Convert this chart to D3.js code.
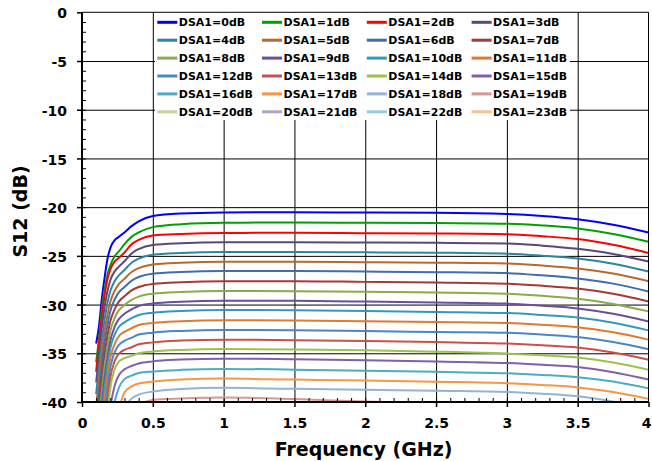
<!DOCTYPE html>
<html><head><meta charset="utf-8">
<script src="https://cdn.jsdelivr.net/npm/d3@7"></script>
<style>
html,body{margin:0;padding:0;background:#fff;}
svg{display:block;}
text{font-family:"DejaVu Sans",Verdana,sans-serif;font-weight:bold;fill:#000;}
</style>
</head><body>
<svg id="chart" width="652" height="461"></svg>
<script>
// ---- data ----
const freq = [0.10,0.12,0.14,0.16,0.18,0.20,0.23,0.26,0.30,0.35,0.40,0.50,0.70,1.0,1.5,2.0,2.5,3.0,3.25,3.5,3.75,4.0];
const seriesNames = ["DSA1=0dB","DSA1=1dB","DSA1=2dB","DSA1=3dB","DSA1=4dB","DSA1=5dB","DSA1=6dB","DSA1=7dB",
  "DSA1=8dB","DSA1=9dB","DSA1=10dB","DSA1=11dB","DSA1=12dB","DSA1=13dB","DSA1=14dB","DSA1=15dB",
  "DSA1=16dB","DSA1=17dB","DSA1=18dB","DSA1=19dB","DSA1=20dB","DSA1=21dB","DSA1=22dB","DSA1=23dB"];
const s0  = [-34.0,-32.2,-29.4,-27.2,-25.3,-24.2,-23.4,-23.05,-22.6,-21.95,-21.45,-20.9,-20.65,-20.55,-20.52,-20.55,-20.57,-20.7,-20.9,-21.23,-21.8,-22.6];
const s1  = [-35.9,-33.5,-30.5,-28.4,-26.9,-26.0,-25.05,-24.55,-23.8,-23.05,-22.6,-22.05,-21.75,-21.6,-21.58,-21.6,-21.62,-21.7,-21.88,-22.18,-22.75,-23.55];
const s2  = [-36.9,-33.9,-31.2,-29.0,-27.4,-26.4,-25.6,-25.2,-24.65,-23.8,-23.35,-22.9,-22.75,-22.65,-22.63,-22.67,-22.7,-22.77,-22.98,-23.28,-23.87,-24.7];
const s3  = [-38.0,-35.1,-32.4,-30.2,-28.6,-27.5,-26.6,-26.1,-25.55,-24.75,-24.3,-23.88,-23.7,-23.6,-23.6,-23.63,-23.66,-23.72,-23.95,-24.28,-24.8,-25.58];
const s4  = [-39.2,-36.4,-33.7,-31.5,-29.8,-28.6,-27.6,-27.0,-26.45,-25.7,-25.28,-24.88,-24.7,-24.6,-24.6,-24.64,-24.68,-24.78,-24.98,-25.27,-25.8,-26.6];
const s5  = [-40.4,-37.7,-35.0,-32.7,-31.0,-29.7,-28.6,-27.9,-27.35,-26.65,-26.25,-25.88,-25.7,-25.6,-25.6,-25.65,-25.7,-25.78,-26.0,-26.3,-26.82,-27.6];
const s6  = [-41.55,-38.95,-36.25,-33.85,-32.05,-30.65,-29.5,-28.75,-28.2,-27.55,-27.17,-26.83,-26.65,-26.55,-26.55,-26.61,-26.67,-26.77,-27.0,-27.32,-27.85,-28.65];
const s7  = [-42.8,-40.3,-37.6,-35.1,-33.2,-31.7,-30.5,-29.7,-29.15,-28.55,-28.2,-27.88,-27.7,-27.6,-27.6,-27.67,-27.74,-27.86,-28.07,-28.36,-28.9,-29.68];
const s8  = [-44.0,-41.6,-38.9,-36.3,-34.3,-32.7,-31.4,-30.6,-30.05,-29.52,-29.18,-28.88,-28.7,-28.6,-28.62,-28.68,-28.76,-28.88,-29.1,-29.4,-29.93,-30.7];
const s9  = [-45.2,-42.9,-40.2,-37.5,-35.4,-33.7,-32.3,-31.5,-30.95,-30.5,-30.15,-29.88,-29.7,-29.6,-29.62,-29.69,-29.78,-29.9,-30.12,-30.4,-30.95,-31.73];
const s10 = [-46.35,-43.95,-40.95,-38.45,-36.15,-34.45,-33.1,-32.3,-31.83,-31.4,-31.07,-30.83,-30.65,-30.55,-30.58,-30.65,-30.75,-30.87,-31.07,-31.33,-31.87,-32.65];
const s11 = [-47.6,-45.2,-42.3,-39.7,-37.3,-35.45,-34.05,-33.25,-32.8,-32.42,-32.1,-31.88,-31.7,-31.6,-31.63,-31.7,-31.8,-31.9,-32.08,-32.32,-32.85,-33.6];
const s12 = [-48.7,-46.4,-43.6,-41.0,-38.5,-36.45,-34.9,-34.15,-33.72,-33.4,-33.08,-32.88,-32.7,-32.6,-32.64,-32.71,-32.82,-32.9,-33.08,-33.34,-33.85,-34.58];
const s13 = [-49.8,-47.5,-44.8,-42.3,-39.8,-37.5,-35.8,-35.05,-34.65,-34.38,-34.07,-33.88,-33.7,-33.6,-33.65,-33.73,-33.85,-34.0,-34.17,-34.4,-34.92,-35.66];
const s14 = [-50.85,-48.55,-45.95,-43.55,-41.15,-38.55,-36.65,-35.85,-35.5,-35.27,-35.0,-34.82,-34.65,-34.55,-34.61,-34.7,-34.83,-35.03,-35.2,-35.43,-35.95,-36.69];
const s15 = [-51.95,-49.75,-47.35,-45.05,-42.85,-40.55,-38.35,-37.25,-36.65,-36.3,-36.05,-35.83,-35.65,-35.55,-35.62,-35.72,-35.85,-36.0,-36.18,-36.41,-36.95,-37.7];
const s16 = [-53.1,-51.0,-48.8,-46.6,-44.4,-42.2,-40.0,-38.55,-37.65,-37.3,-37.02,-36.87,-36.7,-36.6,-36.68,-36.78,-36.9,-37.05,-37.22,-37.45,-37.9,-38.6];
const s17 = [-54.6,-52.6,-50.6,-48.6,-46.6,-44.6,-42.4,-40.8,-39.0,-38.4,-38.1,-37.9,-37.7,-37.6,-37.7,-37.8,-37.92,-38.07,-38.25,-38.5,-38.98,-39.68];
const s18 = [-56.05,-54.05,-52.05,-50.05,-48.05,-46.05,-44.35,-42.85,-40.75,-39.65,-39.25,-38.93,-38.67,-38.55,-38.65,-38.75,-38.85,-38.97,-39.15,-39.42,-39.95,-40.6];
const s19 = [-57.55,-55.55,-53.55,-51.55,-49.55,-47.55,-46.05,-44.55,-42.75,-41.25,-40.4,-39.8,-39.65,-39.55,-39.7,-39.95,-40.15,-40.35,-40.55,-40.75,-41.15,-41.75];
const s20 = [-58.5,-56.5,-54.5,-52.5,-50.5,-48.5,-47.0,-45.5,-43.8,-42.3,-41.4,-40.8,-40.65,-40.55,-40.7,-40.95,-41.15,-41.35,-41.55,-41.75,-42.15,-42.75];
const s21 = [-59.5,-57.5,-55.5,-53.5,-51.5,-49.5,-48.0,-46.5,-44.8,-43.3,-42.4,-41.8,-41.65,-41.55,-41.7,-41.95,-42.15,-42.35,-42.55,-42.75,-43.15,-43.75];
const s22 = [-60.5,-58.5,-56.5,-54.5,-52.5,-50.5,-49.0,-47.5,-45.8,-44.3,-43.4,-42.8,-42.65,-42.55,-42.7,-42.95,-43.15,-43.35,-43.55,-43.75,-44.15,-44.75];
const s23 = [-61.5,-59.5,-57.5,-55.5,-53.5,-51.5,-50.0,-48.5,-46.8,-45.3,-44.4,-43.8,-43.65,-43.55,-43.7,-43.95,-44.15,-44.35,-44.55,-44.75,-45.15,-45.75];
const seriesValues = [s0,s1,s2,s3,s4,s5,s6,s7,s8,s9,s10,s11,s12,s13,s14,s15,s16,s17,s18,s19,s20,s21,s22,s23];
const xTickValues = [0,0.5,1,1.5,2,2.5,3,3.5,4];
const xTickLabels = ["0","0.5","1","1.5","2","2.5","3","3.5","4"];
const yTickValues = [0,-5,-10,-15,-20,-25,-30,-35,-40];
const yTickLabels = ["0","-5","-10","-15","-20","-25","-30","-35","-40"];
const xTitle = "Frequency (GHz)";
const yTitle = "S12 (dB)";

// ---- styles ----
const colors = ["#0000FF","#00A000","#FF0000","#5C4776","#31849B","#B9692F","#3F6DB0","#A5393A",
  "#8AAB49","#6A4F9A","#3399BB","#E07A30","#4A86C8","#C9504B","#9DC04E","#8060AA",
  "#4BACC6","#F79646","#95B3D7","#D99694","#C3D69B","#B3A2C7","#93CDDD","#FAC090"];

const svg = d3.select("#chart");
svg.append("rect").attr("width",652).attr("height",461).attr("fill","#fff");

const L = 82, R = 648.5, T = 12.3, B = 402;
const x = d3.scaleLinear().domain([0,4]).range([L,R]);
const y = d3.scaleLinear().domain([-40,0]).range([B,T]);

// gridlines
const gy = svg.append("g").attr("transform",`translate(${L},0)`)
  .call(d3.axisLeft(y).tickValues(yTickValues.filter(v=>v>-40 && v<0)).tickSize(-(R-L)).tickFormat(""));
gy.select(".domain").remove();
gy.selectAll("line").attr("stroke","#000").attr("stroke-width",1);
const gx = svg.append("g").attr("transform",`translate(0,${B})`)
  .call(d3.axisBottom(x).tickValues(xTickValues.filter(v=>v>0 && v<4)).tickSize(-(B-T)).tickFormat(""));
gx.select(".domain").remove();
gx.selectAll("line").attr("stroke","#000").attr("stroke-width",1);

// curves
svg.append("clipPath").attr("id","clip").append("rect")
  .attr("x",L).attr("y",T).attr("width",R-L).attr("height",B-T);
const line = d3.line().x((d,i)=>x(freq[i])).y(d=>y(d)).curve(d3.curveMonotoneX);
const cg = svg.append("g").attr("clip-path","url(#clip)");
seriesValues.forEach((vals,k)=>{
  cg.append("path").attr("d",line(vals)).attr("fill","none")
    .attr("stroke",colors[k]).attr("stroke-width",2).attr("stroke-linejoin","round");
});

// legend
const lg = svg.append("g");
lg.append("rect").attr("x",155).attr("y",13).attr("width",415).attr("height",107).attr("fill","#fff");
const colX = [157.3,262,366.8,471.6];
seriesNames.forEach((name,k)=>{
  const c = k%4, r = Math.floor(k/4);
  const cy = 22.3 + r*17.9;
  lg.append("line").attr("x1",colX[c]).attr("x2",colX[c]+20).attr("y1",cy).attr("y2",cy)
    .attr("stroke",colors[k]).attr("stroke-width",3);
  lg.append("text").attr("x",colX[c]+21.5).attr("y",cy+4).style("font-size","11px").text(name);
});

// frame
svg.append("line").attr("x1",L).attr("x2",R).attr("y1",T).attr("y2",T).attr("stroke","#000").attr("stroke-width",1);
svg.append("line").attr("x1",R).attr("x2",R).attr("y1",T).attr("y2",B).attr("stroke","#000").attr("stroke-width",1);

// minor ticks
const yMinor = d3.range(-39,0,1);
const ym = svg.append("g").attr("transform",`translate(${L},0)`)
  .call(d3.axisLeft(y).tickValues(yMinor).tickSize(-4).tickFormat(""));
ym.select(".domain").remove();
ym.selectAll("line").attr("stroke","#000").attr("stroke-width",1);
const xMinor = d3.range(1,40,1).map(v=>v/10);
const xm = svg.append("g").attr("transform",`translate(0,${B})`)
  .call(d3.axisBottom(x).tickValues(xMinor).tickSize(-4).tickFormat(""));
xm.select(".domain").remove();
xm.selectAll("line").attr("stroke","#000").attr("stroke-width",1);

// major axes
const ya = svg.append("g").attr("transform",`translate(${L},0)`)
  .call(d3.axisLeft(y).tickValues(yTickValues).tickSize(5).tickSizeOuter(0).tickPadding(10)
    .tickFormat((d,i)=>yTickLabels[i]));
ya.select(".domain").remove();
ya.selectAll("line").attr("stroke","#000").attr("stroke-width",1.5);
ya.selectAll("text").style("font-size","14px").style("font-family","'DejaVu Sans',Verdana,sans-serif")
  .style("font-weight","bold").attr("fill","#000").attr("dy","0.4em");
const xa = svg.append("g").attr("transform",`translate(0,${B})`)
  .call(d3.axisBottom(x).tickValues(xTickValues).tickSize(5).tickSizeOuter(0).tickPadding(11)
    .tickFormat((d,i)=>xTickLabels[i]));
xa.select(".domain").remove();
xa.selectAll("line").attr("stroke","#000").attr("stroke-width",1.5);
xa.selectAll("text").style("font-size","14px").style("font-family","'DejaVu Sans',Verdana,sans-serif")
  .style("font-weight","bold").attr("fill","#000")
  .attr("dx",(d,i)=> i===xTickValues.length-1 ? -2.5 : 0);

svg.append("line").attr("x1",L).attr("x2",L).attr("y1",T).attr("y2",B+1).attr("stroke","#000").attr("stroke-width",2);
svg.append("line").attr("x1",L-1).attr("x2",R).attr("y1",B).attr("y2",B).attr("stroke","#000").attr("stroke-width",2);

// titles
svg.append("text").attr("x",363.5).attr("y",455.5).attr("text-anchor","middle")
  .style("font-size","19px").text(xTitle);
svg.append("text").attr("transform","translate(26.5,211.5) rotate(-90)").attr("text-anchor","middle")
  .style("font-size","19px").text(yTitle);
</script>
</body></html>
